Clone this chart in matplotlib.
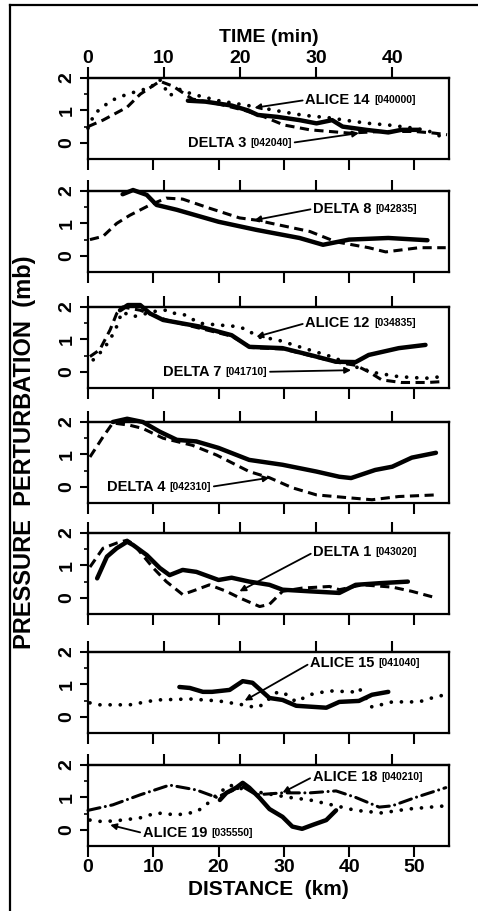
import matplotlib
matplotlib.use("Agg")
import matplotlib.pyplot as plt
from matplotlib.lines import Line2D

plt.rcParams['font.family'] = ['Liberation Sans', 'DejaVu Sans']
plt.rcParams['font.weight'] = 'bold'

# distance (km) -> time (min) along the flight track
KM_PER_MIN = 1.165

# panel 1
p1_solid_x = [15.3, 18, 22, 24.5, 26, 29, 32.4, 35, 37.4, 39, 42.6, 46, 48, 50.7]
p1_solid_y = [1.3, 1.27, 1.15, 1.0, 0.86, 0.8, 0.7, 0.6, 0.7, 0.5, 0.4, 0.32, 0.4, 0.4]
p1_alice14_x = [0, 1, 3.5, 6, 9.5, 11, 12.5, 14, 16, 20, 23, 26, 30, 33, 37, 40, 43, 46, 50, 52, 54, 55]
p1_alice14_y = [0.45, 0.9, 1.3, 1.5, 1.7, 1.95, 1.45, 1.65, 1.5, 1.3, 1.2, 1.1, 0.95, 0.85, 0.77, 0.68, 0.6, 0.55, 0.45, 0.38, 0.2, 0.15]
p1_delta3_x = [0, 2.3, 6, 8, 11, 13, 16, 20, 24, 27, 30, 34, 40, 45, 50, 53, 55]
p1_delta3_y = [0.5, 0.7, 1.1, 1.5, 1.9, 1.75, 1.35, 1.2, 1.0, 0.8, 0.55, 0.4, 0.3, 0.35, 0.35, 0.3, 0.25]

# panel 2
p2_solid_x = [5.3, 6.9, 9, 10.5, 13.6, 20, 25.8, 32.4, 36, 40, 46, 52]
p2_solid_y = [1.9, 2.03, 1.88, 1.57, 1.42, 1.05, 0.8, 0.55, 0.34, 0.5, 0.55, 0.48]
p2_delta8_x = [0.3, 2.3, 4.4, 6.4, 9.5, 12, 14.5, 18.6, 23.2, 25.8, 29.3, 34, 38, 43, 45.6, 50.7, 54.8]
p2_delta8_y = [0.5, 0.6, 1.0, 1.25, 1.57, 1.78, 1.75, 1.47, 1.17, 1.1, 0.95, 0.75, 0.43, 0.25, 0.12, 0.25, 0.25]

# panel 3
p3_solid_x = [4.9, 6.1, 8, 9.5, 11.5, 17, 22, 24.7, 29.8, 34, 38, 41, 43, 47.6, 51.7]
p3_solid_y = [1.9, 2.06, 2.06, 1.8, 1.6, 1.4, 1.13, 0.77, 0.73, 0.52, 0.31, 0.3, 0.52, 0.73, 0.83]
p3_alice12_x = [0.8, 2.3, 3.4, 4.4, 5.2, 6.9, 11, 12.5, 13.3, 15, 17, 19.7, 22.7, 24.5, 25.8, 28.8, 32.4, 37.4, 41, 44, 47.6, 51.7, 54.2]
p3_alice12_y = [0.37, 0.68, 1.0, 1.4, 1.85, 1.7, 1.9, 1.9, 1.8, 1.75, 1.5, 1.45, 1.4, 1.3, 1.08, 1.0, 0.77, 0.46, 0.15, -0.03, -0.15, -0.2, -0.15]
p3_delta7_x = [0.3, 1.8, 3.4, 4.4, 5.3, 8, 12, 17, 22, 25, 30, 34, 38, 41, 43, 45, 48, 52, 54.5]
p3_delta7_y = [0.47, 0.68, 1.3, 1.8, 2.0, 1.9, 1.6, 1.35, 1.1, 0.75, 0.7, 0.5, 0.3, 0.2, 0.0, -0.25, -0.33, -0.33, -0.3]

# panel 4
p4_solid_x = [3.8, 6, 8.4, 11, 13.6, 16.6, 20, 24.7, 29.8, 35, 38.5, 40.3, 44, 46.6, 49.6, 53.3]
p4_solid_y = [2.0, 2.1, 2.0, 1.7, 1.45, 1.4, 1.2, 0.83, 0.68, 0.47, 0.31, 0.27, 0.52, 0.62, 0.9, 1.05]
p4_delta4_x = [0.3, 2.3, 3.8, 6.4, 8.4, 11.5, 16, 19.7, 24.7, 27.8, 31.3, 35, 40, 43.5, 47.6, 53.3]
p4_delta4_y = [0.92, 1.54, 1.97, 1.9, 1.8, 1.5, 1.28, 0.98, 0.47, 0.28, -0.03, -0.25, -0.34, -0.4, -0.3, -0.25]

# panel 5
p5_solid_x = [1.4, 2.9, 4.4, 6, 6.9, 9, 11, 12.5, 14.5, 16.6, 20, 22, 24.7, 27.8, 29.8, 34, 38.5, 41, 44.6, 49]
p5_solid_y = [0.6, 1.27, 1.53, 1.73, 1.63, 1.32, 0.92, 0.7, 0.86, 0.8, 0.55, 0.62, 0.5, 0.4, 0.25, 0.2, 0.15, 0.4, 0.45, 0.5]
p5_delta1_x = [0.3, 2.3, 4.4, 6, 7, 10, 12, 14.5, 16.6, 18.6, 21.2, 23.2, 26.3, 27.8, 29.8, 32.8, 37, 38.5, 42, 46.6, 49.6, 53.3]
p5_delta1_y = [0.95, 1.53, 1.69, 1.78, 1.65, 0.92, 0.5, 0.1, 0.25, 0.4, 0.2, 0.0, -0.27, -0.2, 0.2, 0.3, 0.35, 0.25, 0.4, 0.33, 0.2, 0.0]

# panel 6
p6_solid_x = [14, 15.6, 17.6, 19, 21.7, 23.7, 25.2, 27.8, 29.8, 31.9, 35, 36.5, 38.5, 41.5, 43.5, 46]
p6_solid_y = [0.92, 0.89, 0.77, 0.77, 0.83, 1.1, 1.05, 0.58, 0.52, 0.34, 0.3, 0.28, 0.46, 0.49, 0.68, 0.77]
p6_alice15_x = [0.3, 1.8, 6.4, 10.5, 15.6, 20, 23.7, 25.8, 26.7, 28.8, 29.8, 31.9, 33.9, 36.9, 40.5, 41.5, 43.5, 46.6, 50.7, 53.3, 54.8]
p6_alice15_y = [0.43, 0.37, 0.37, 0.52, 0.55, 0.49, 0.37, 0.28, 0.37, 0.74, 0.77, 0.46, 0.68, 0.8, 0.77, 0.89, 0.3, 0.46, 0.46, 0.62, 0.68]

# panel 7
p7_solid_x = [20.2, 21.2, 22.7, 23.7, 24.7, 26.3, 27.8, 29.8, 31.3, 32.8, 34.4, 36.5, 38]
p7_solid_y = [0.92, 1.14, 1.3, 1.45, 1.3, 0.98, 0.64, 0.4, 0.1, 0.03, 0.15, 0.3, 0.6]
p7_alice18_x = [0, 3.8, 8, 12.5, 16.6, 19.7, 21.2, 23.7, 25.8, 29.8, 34, 38, 41, 44.6, 46.6, 50.2, 54.8]
p7_alice18_y = [0.6, 0.77, 1.08, 1.38, 1.23, 1.0, 1.14, 1.33, 1.08, 1.14, 1.14, 1.2, 1.0, 0.7, 0.74, 1.0, 1.3]
p7_alice19_x = [0.3, 2.3, 5.3, 8, 10.5, 13.6, 16.6, 18.1, 19.7, 21.7, 23.7, 26.7, 30.8, 34, 38, 41, 45, 49, 54.8]
p7_alice19_y = [0.3, 0.25, 0.3, 0.37, 0.52, 0.46, 0.55, 0.77, 1.08, 1.38, 1.26, 1.14, 1.0, 0.92, 0.74, 0.6, 0.52, 0.64, 0.74]

distance_ticks = [0, 10, 20, 30, 40, 50]
time_ticks = [0, 10, 20, 30, 40]

SOLID = dict(color='black', lw=3.2, solid_capstyle='round', clip_on=False)
DASHED = dict(color='black', lw=2.2, linestyle=(0, (3, 1.8)), clip_on=False)
DOTTED = dict(color='black', lw=2.7, linestyle=(0, (0.01, 2.7)), dash_capstyle='round', clip_on=False)
DASHDOT = dict(color='black', lw=2.2, linestyle=(0, (4, 1.8, 0.01, 1.8)), dash_capstyle='round', clip_on=False)

W, H = 478, 911
fig = plt.figure(figsize=(W / 100, H / 100), dpi=100)

panel_tops = [78, 191, 307, 422, 533, 652, 765]
panel_h = 81
x_left, x_right = 88, 449

axes = []
for top in panel_tops:
    ax = fig.add_axes([x_left / W, 1 - (top + panel_h) / H, (x_right - x_left) / W, panel_h / H])
    ax.set_xlim(0, 55.3)
    ax.set_ylim(-0.5, 2.0)
    for s in ax.spines.values():
        s.set_linewidth(1.6)
    ax.set_xticks(distance_ticks)
    ax.set_yticks([0, 1, 2])
    ax.set_yticks([0.5, 1.5], minor=True)
    ax.tick_params(axis='x', direction='out', length=8, width=1.5, labelbottom=False, labelsize=14, pad=1)
    ax.tick_params(axis='y', which='major', direction='out', length=6, width=1.5, labelsize=14, pad=3)
    ax.tick_params(axis='y', which='minor', direction='out', length=3, width=1.2)
    for lab in ax.get_yticklabels():
        lab.set_rotation(90)
        lab.set_va('center')
    sec = ax.secondary_xaxis('top', functions=(lambda d: d / KM_PER_MIN, lambda t: t * KM_PER_MIN))
    sec.set_xticks(time_ticks)
    sec.spines['top'].set_linewidth(1.6)
    sec.tick_params(direction='out', length=8, width=1.5, labeltop=False, labelsize=14, pad=0)
    axes.append((ax, sec))

ARROW = dict(arrowstyle='-|>', color='black', lw=1.3, mutation_scale=9, shrinkA=2, shrinkB=0)


def label(ax, name, code, x, y, target, side='left'):
    t = ax.text(x, y, name, fontsize=10.5, fontweight='bold', ha='left', va='center')
    b = ax.annotate(code, xy=(1, 0.5), xycoords=t, xytext=(3, 0), textcoords='offset points',
                    fontsize=7.5, fontweight='bold', ha='left', va='center')
    if side == 'left':
        ax.annotate('', xy=target, xycoords='data', xytext=(0, 0.5), textcoords=t, arrowprops=ARROW)
    else:
        ax.annotate('', xy=target, xycoords='data', xytext=(1, 0.5), textcoords=b, arrowprops=ARROW)


# panel 1
ax, sec = axes[0]
ax.plot(p1_alice14_x, p1_alice14_y, **DOTTED)
ax.plot(p1_delta3_x, p1_delta3_y, **DASHED)
ax.plot(p1_solid_x, p1_solid_y, **SOLID)
label(ax, 'ALICE 14', '[040000]', 33.3, 1.32, (25.5, 1.08))
label(ax, 'DELTA 3', '[042040]', 15.3, 0.0, (41.5, 0.3), side='right')
sec.tick_params(labeltop=True)
sec.set_xlabel('TIME (min)', fontsize=14, fontweight='bold', labelpad=6)

# panel 2
ax, sec = axes[1]
ax.plot(p2_delta8_x, p2_delta8_y, **DASHED)
ax.plot(p2_solid_x, p2_solid_y, **SOLID)
label(ax, 'DELTA 8', '[042835]', 34.5, 1.45, (25.5, 1.1))

# panel 3
ax, sec = axes[2]
ax.plot(p3_alice12_x, p3_alice12_y, **DOTTED)
ax.plot(p3_delta7_x, p3_delta7_y, **DASHED)
ax.plot(p3_solid_x, p3_solid_y, **SOLID)
label(ax, 'ALICE 12', '[034835]', 33.3, 1.5, (25.8, 1.08))
label(ax, 'DELTA 7', '[041710]', 11.5, 0.0, (40.3, 0.05), side='right')

# panel 4
ax, sec = axes[3]
ax.plot(p4_delta4_x, p4_delta4_y, **DASHED)
ax.plot(p4_solid_x, p4_solid_y, **SOLID)
label(ax, 'DELTA 4', '[042310]', 2.9, 0.0, (27.8, 0.28), side='right')

# panel 5
ax, sec = axes[4]
ax.plot(p5_delta1_x, p5_delta1_y, **DASHED)
ax.plot(p5_solid_x, p5_solid_y, **SOLID)
label(ax, 'DELTA 1', '[043020]', 34.5, 1.4, (23.2, 0.2))

# panel 6
ax, sec = axes[5]
ax.plot(p6_alice15_x, p6_alice15_y, **DOTTED)
ax.plot(p6_solid_x, p6_solid_y, **SOLID)
label(ax, 'ALICE 15', '[041040]', 34.0, 1.65, (24.0, 0.5))

# panel 7
ax, sec = axes[6]
ax.plot(p7_alice18_x, p7_alice18_y, **DASHDOT)
ax.plot(p7_alice19_x, p7_alice19_y, **DOTTED)
ax.plot(p7_solid_x, p7_solid_y, **SOLID)
label(ax, 'ALICE 18', '[040210]', 34.4, 1.63, (29.8, 1.15))
label(ax, 'ALICE 19', '[035550]', 8.4, -0.1, (3.4, 0.15))
ax.tick_params(axis='x', labelbottom=True)
ax.set_xlabel('DISTANCE  (km)', fontsize=15, fontweight='bold', labelpad=3)

fig.text(25 / W, 1 - 452 / H, 'PRESSURE  PERTURBATION  (mb)', rotation=90,
         fontsize=17, fontweight='bold', ha='center', va='center')

# outer frame of the figure (left and top edges)
fig.add_artist(Line2D([10 / W, 10 / W], [0, 1 - 5 / H], color='black', lw=1.6))
fig.add_artist(Line2D([10 / W, 1], [1 - 5 / H, 1 - 5 / H], color='black', lw=1.6))

fig.savefig('out.png', dpi=100)
